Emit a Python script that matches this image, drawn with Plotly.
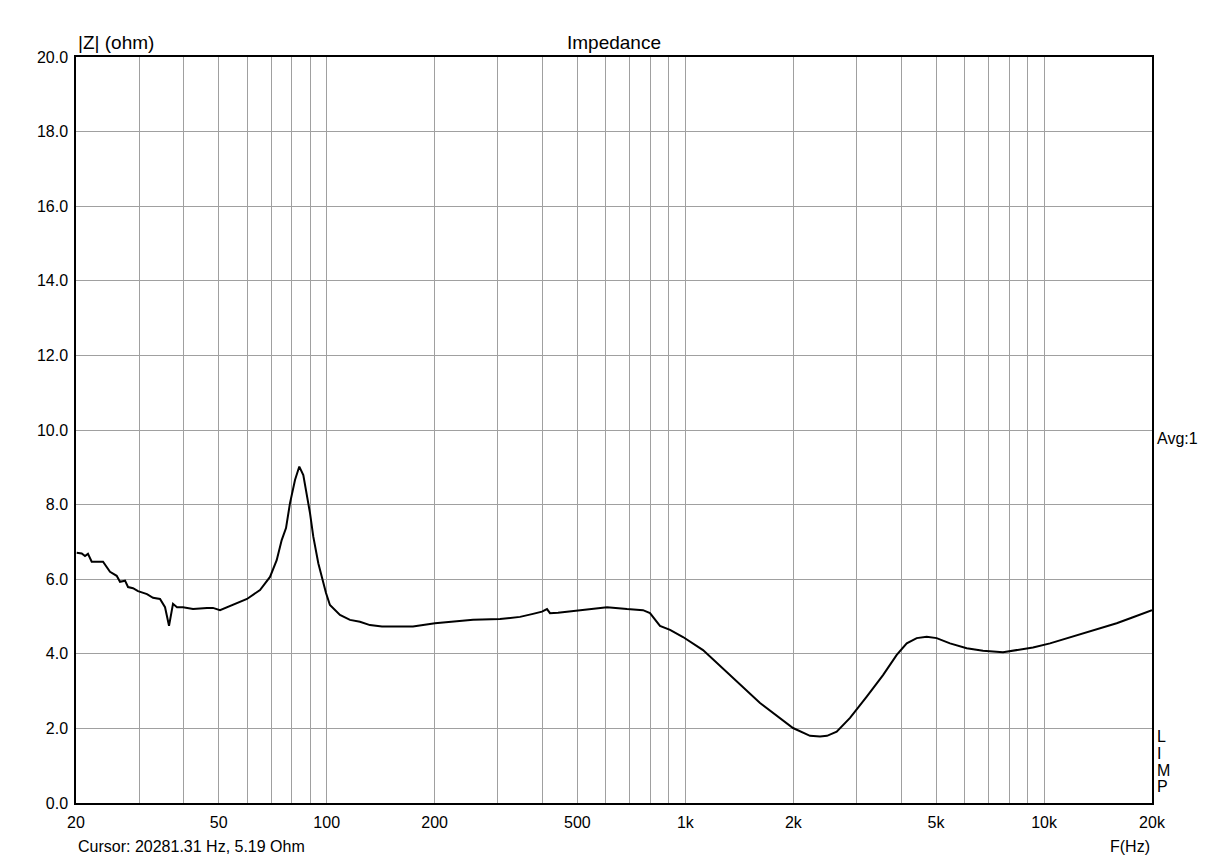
import plotly.graph_objects as go

freq_hz = [20.09, 20.75, 21.19, 21.60, 22.12, 23.79, 24.88, 25.97, 26.53, 27.40,
           27.93, 28.84, 29.78, 31.55, 32.79, 34.30, 35.42, 36.34, 37.28, 38.25,
           39.75, 42.40, 46.37, 48.19, 50.41, 52.73, 56.23, 59.95, 65.17, 69.49,
           72.54, 74.91, 77.01, 79.01, 81.59, 83.87, 86.06, 87.96, 89.84, 91.76,
           94.75, 99.56, 102.1, 108.9, 116.1, 123.8, 132.0, 142.6, 174.0, 200.4,
           225.0, 255.9, 304.3, 345.9, 376.0, 398.4, 411.4, 419.4, 441.5, 508.5,
           531.8, 604.8, 687.7, 761.9, 796.9, 849.7, 906.3, 985.1, 1120, 1358,
           1615, 1996, 2132, 2226, 2374, 2483, 2642, 2878, 3204, 3557,
           3884, 4142, 4416, 4709, 5020, 5468, 6087, 6758, 7684, 8390,
           9317, 10390, 11566, 12843, 14322, 15942, 17702, 20000]
impedance_ohm = [6.71, 6.69, 6.62, 6.68, 6.47, 6.47, 6.20, 6.09, 5.93, 5.96,
                 5.79, 5.76, 5.68, 5.60, 5.50, 5.47, 5.25, 4.75, 5.34, 5.25,
                 5.25, 5.20, 5.23, 5.23, 5.17, 5.25, 5.36, 5.47, 5.71, 6.06,
                 6.51, 7.05, 7.37, 8.04, 8.66, 9.02, 8.79, 8.31, 7.77, 7.14,
                 6.43, 5.63, 5.31, 5.04, 4.91, 4.86, 4.77, 4.73, 4.73, 4.82,
                 4.86, 4.91, 4.93, 4.99, 5.07, 5.13, 5.20, 5.09, 5.10, 5.17,
                 5.20, 5.25, 5.20, 5.17, 5.09, 4.75, 4.64, 4.45, 4.10, 3.35,
                 2.68, 2.01, 1.87, 1.80, 1.78, 1.80, 1.91, 2.28, 2.85, 3.43,
                 3.97, 4.28, 4.42, 4.46, 4.42, 4.28, 4.15, 4.08, 4.04, 4.10,
                 4.17, 4.28, 4.42, 4.55, 4.68, 4.82, 4.98, 5.17]

x_grid = [20, 30, 40, 50, 60, 70, 80, 90, 100, 200, 300, 400, 500, 600, 700, 800, 900,
          1000, 2000, 3000, 4000, 5000, 6000, 7000, 8000, 9000, 10000, 20000]
x_labels = {20: "20", 50: "50", 100: "100", 200: "200", 500: "500", 1000: "1k",
            2000: "2k", 5000: "5k", 10000: "10k", 20000: "20k"}
y_ticks = [0, 2, 4, 6, 8, 10, 12, 14, 16, 18, 20]
y_labels = ["0.0", "2.0", "4.0", "6.0", "8.0", "10.0", "12.0", "14.0", "16.0", "18.0", "20.0"]
limp_letters = ["L", "I", "M", "P"]
limp_y = [1.77, 1.34, 0.88, 0.43]

FONT = "Liberation Sans, Arial, sans-serif"

fig = go.Figure()
fig.add_trace(go.Scatter(x=freq_hz, y=impedance_ohm, mode="lines",
                         line=dict(color="black", width=2), hoverinfo="skip"))

fig.update_layout(
    width=1228, height=860,
    margin=dict(l=68, r=84, t=49, b=65),
    paper_bgcolor="white", plot_bgcolor="white",
    showlegend=False,
    font=dict(family=FONT, size=16, color="black"),
    xaxis=dict(type="log", range=[1.30103, 4.30103],
               tickmode="array", tickvals=x_grid,
               ticktext=[x_labels.get(v, "") for v in x_grid],
               showgrid=True, gridcolor="#a0a0a0", gridwidth=1,
               showline=True, linecolor="black", linewidth=1.5, mirror=True,
               ticks="outside", ticklen=4, tickcolor="rgba(0,0,0,0)", zeroline=False,
               tickfont=dict(family=FONT, size=16)),
    yaxis=dict(range=[0, 20], tickmode="array", tickvals=y_ticks, ticktext=y_labels,
               showgrid=True, gridcolor="#a0a0a0", gridwidth=1,
               showline=True, linecolor="black", linewidth=1.5, mirror=True,
               ticks="outside", ticklen=3, tickcolor="rgba(0,0,0,0)", zeroline=False,
               tickfont=dict(family=FONT, size=16)),
)

annotations = [
    dict(text="Impedance", x=0.5, y=1.0, xref="paper", yref="paper",
         xanchor="center", yanchor="middle", yshift=15, showarrow=False,
         font=dict(size=19)),
    dict(text="|Z| (ohm)", x=0.0, y=1.0, xref="paper", yref="paper",
         xanchor="left", yanchor="middle", yshift=15, xshift=0, showarrow=False,
         font=dict(size=19)),
    dict(text="Avg:1", x=1.0, y=9.76, xref="paper", yref="y",
         xanchor="left", yanchor="middle", xshift=3, showarrow=False),
    dict(text="F(Hz)", x=1.0, y=0.0, xref="paper", yref="paper",
         xanchor="right", yanchor="middle", yshift=-43, xshift=0, showarrow=False),
    dict(text="Cursor: 20281.31 Hz, 5.19 Ohm", x=0.0, y=0.0, xref="paper", yref="paper",
         xanchor="left", yanchor="middle", yshift=-43, xshift=0, showarrow=False),
]
for letter, ly in zip(limp_letters, limp_y):
    annotations.append(dict(text=letter, x=1.0, y=ly, xref="paper", yref="y",
                            xanchor="left", yanchor="middle", xshift=3,
                            showarrow=False))
fig.update_layout(annotations=annotations)

fig.write_html("out.html")
